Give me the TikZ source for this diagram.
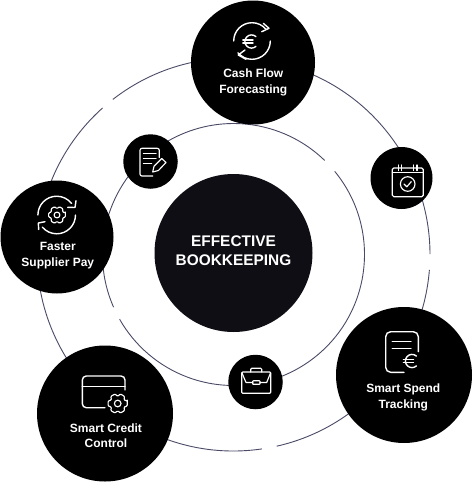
\documentclass[tikz,border=0pt]{standalone}
\usepackage{fontspec}
\setmainfont{Liberation Sans}
\definecolor{ringc}{HTML}{4A4A66}
\definecolor{hubc}{HTML}{0F0E14}
\tikzset{
  ringarc/.style={draw=ringc,line width=0.9pt},
  disc/.style={circle,fill=black,inner sep=0pt,outer sep=0pt,minimum size=#1},
  hub/.style={circle,fill=hubc,inner sep=0pt,outer sep=0pt,minimum size=#1},
  lbl/.style={text=white,align=center,inner sep=0pt,font=\fontsize{12}{15.4}\selectfont\bfseries},
  hublbl/.style={text=white,align=center,inner sep=0pt,font=\fontsize{15.4}{18.6}\selectfont\bfseries},
  icon/.style={draw=white,line width=1.4pt,line cap=round,line join=round,fill=none},
  iconthin/.style={draw=white,line width=1.15pt,line cap=round,line join=round,fill=none}
}
\newcommand{\IconGear}[3]{%
  \begin{scope}[shift={(#1,#2)},scale=#3]
    \draw[iconthin,rounded corners=0.9pt] (-14:8.6)
      \foreach \a in {30,90,...,330}{ -- (\a-30+14:8.6) -- (\a:6.3) -- (\a+30-14:8.6)} -- cycle;
    \draw[iconthin] (0,0) circle (2.9);
  \end{scope}}
\newcommand{\IconEuro}[3]{%
  \begin{scope}[shift={(#1,#2)},scale=#3]
    \draw[icon] (-48:6.6) arc[start angle=-48,end angle=-312,radius=6.6];
    \draw[icon] (-8.6,-1.4) -- (1.5,-1.4);
    \draw[icon] (-8.6,1.6) -- (1.5,1.6);
  \end{scope}}
\begin{document}
\begin{tikzpicture}[x=1pt,y=1pt,yscale=-1]
\useasboundingbox (0,0) rectangle (472,482);
\coordinate (ctr) at (233.5,254.5);
% outer ring
\draw[ringarc] (ctr) ++(232.1:196.5) arc[start angle=232.1,end angle=359.9,radius=196.5];
\draw[ringarc] (ctr) ++(4.5:196.5) arc[start angle=4.5,end angle=77.3,radius=196.5];
\draw[ringarc] (ctr) ++(81.7:196.5) arc[start angle=81.7,end angle=228.2,radius=196.5];
% inner ring
\draw[ringarc] (ctr) ++(-39.4:131) arc[start angle=-39.4,end angle=150.4,radius=131];
\draw[ringarc] (ctr) ++(156.3:131) arc[start angle=156.3,end angle=314.1,radius=131];
% discs
\node[hub=158pt] (hubn) at (233.5,253) {};
\node[disc=124pt] (cash) at (253,62.5) {};
\node[disc=113pt] (supp) at (57,237) {};
\node[disc=136pt] (cred) at (105,413.5) {};
\node[disc=136pt] (spend) at (404,375) {};
\node[disc=62pt] (cal) at (401.5,178) {};
\node[disc=54.5pt] (brief) at (255.5,382) {};
\node[disc=54.5pt] (note) at (150.5,161.5) {};
% labels
\node[hublbl] (hubt) at (233.5,250.4) {EFFECTIVE\\BOOKKEEPING};
\node[lbl] (casht) at (253.3,82.6) {Cash Flow\\Forecasting};
\node[lbl] (suppt) at (57.8,255.6) {Faster\\Supplier Pay};
\node[lbl] (credt) at (106,435.8) {Smart Credit\\Control};
\node[lbl] (spendt) at (403.3,397.3) {Smart Spend\\Tracking};
% cash flow icon
\draw[icon] (252,41) ++(180:18.3) arc[start angle=180,end angle=320,radius=18.3];
\draw[icon] (263.3,23.3) -- (269,28.3) -- (261.7,31.7);
\draw[icon] (252,41) ++(0:18.3) arc[start angle=0,end angle=140,radius=18.3];
\draw[icon] (245,50) -- (238.3,55) -- (246,59.3);
\IconEuro{251.5}{41.5}{1}
% supplier icon
\draw[icon] (56.7,215) ++(180:18.8) arc[start angle=180,end angle=322,radius=18.8];
\draw[icon] (76,200.7) -- (75,207.5) -- (67.7,207.3);
\draw[icon] (56.7,215) ++(0:18.8) arc[start angle=0,end angle=140,radius=18.8];
\draw[icon] (45,221.7) -- (38.3,223) -- (38.7,229.5);
\IconGear{57}{215}{1}
% credit card icon
\draw[icon] (125,390) -- (125,380) arc[start angle=0,end angle=-90,radius=4] -- (86.3,376) arc[start angle=270,end angle=180,radius=4] -- (82.3,403.7) arc[start angle=180,end angle=90,radius=4] -- (105,407.7);
\draw[icon] (82.3,386.7) -- (125,386.7);
\IconGear{117.7}{403.5}{1.15}
% spend doc icon
\draw[icon] (418.3,351.7) -- (418.3,336.7) arc[start angle=0,end angle=-90,radius=5] -- (390.7,331.7) arc[start angle=270,end angle=180,radius=5] -- (385.7,367.3) arc[start angle=180,end angle=90,radius=5] -- (404,372.3);
\draw[icon] (392.3,341.7) -- (411,341.7);
\draw[icon] (392.3,348.3) -- (411,348.3);
\IconEuro{412}{361}{1}
% calendar icon
\draw[iconthin,rounded corners=1.5pt] (392.3,168) rectangle (423.3,196.7);
\draw[iconthin] (392.3,172.5) -- (423.3,172.5);
\foreach \px in {398.5,401.7,413.7,417}{\draw[iconthin] (\px,165) -- (\px,170.5);}
\draw[iconthin] (407.7,184) circle (7.3);
\draw[iconthin] (404,184) -- (406.8,186.8) -- (411.3,181.6);
% briefcase icon
\draw[iconthin,rounded corners=1pt] (241.7,372) rectangle (270.7,393.3);
\draw[iconthin,rounded corners=1pt] (250.7,372) -- (250.7,368.3) -- (261.7,368.3) -- (261.7,372);
\draw[iconthin] (242,373) -- (246,382.5) -- (252.7,382.5);
\draw[iconthin] (260,382.5) -- (266.7,382.5) -- (270.5,373);
\draw[iconthin,rounded corners=0.6pt] (252.7,380.8) rectangle (260,384.3);
% note icon
\draw[iconthin] (159.3,157.5) -- (159.3,150.3) arc[start angle=0,end angle=-90,radius=2] -- (142,148.3) arc[start angle=270,end angle=180,radius=2] -- (140,174) arc[start angle=180,end angle=90,radius=2] -- (152.7,176);
\draw[iconthin] (143.5,153.3) -- (156,153.3);
\draw[iconthin] (143.5,158.3) -- (156,158.3);
\draw[iconthin] (143.5,163.3) -- (151.7,163.3);
\draw[iconthin] (152.7,172) -- (154,166.3) -- (161.7,158.5) -- (166,162.5) -- (158.4,170.5) -- cycle;
\end{tikzpicture}
\end{document}
